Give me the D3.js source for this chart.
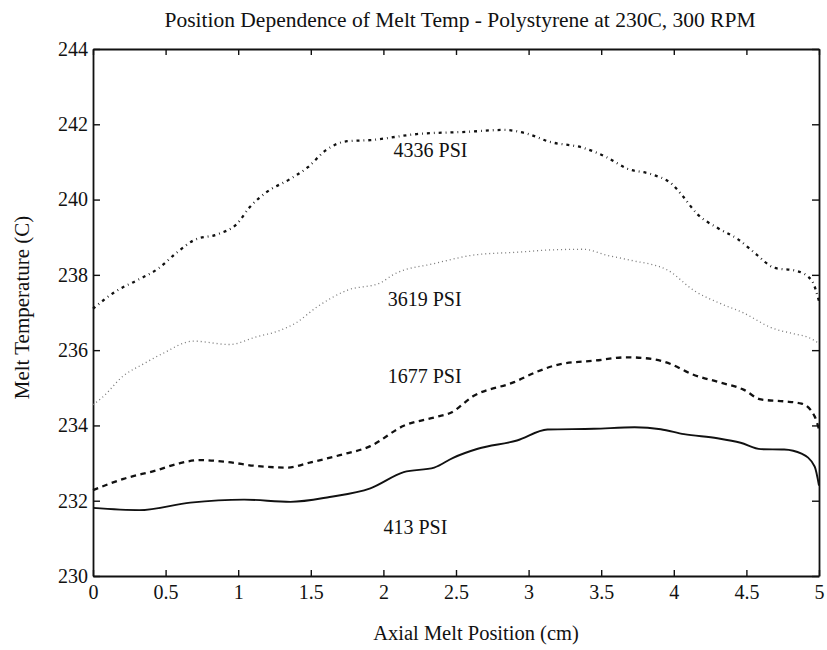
<!DOCTYPE html>
<html>
<head>
<meta charset="utf-8">
<script src="https://cdn.jsdelivr.net/npm/d3@7"></script>
<style>
  body { margin: 0; background: #fff; }
  svg text { font-family: "Liberation Serif", "Times New Roman", serif; fill: #111; }
</style>
</head>
<body>
<svg id="chart" width="827" height="650"></svg>
<script>
// values (axial position in cm, melt temp in C)
var x413 = [0, 0.32, 0.67, 1.04, 1.36, 1.63, 1.91, 2.14, 2.35, 2.48, 2.65, 2.92, 3.13, 3.45, 3.73, 3.91, 4.07, 4.30, 4.46, 4.60, 4.76, 4.88, 4.97, 5.0];
var t413 = [231.81, 231.75, 231.95, 232.03, 231.97, 232.10, 232.33, 232.76, 232.88, 233.14, 233.38, 233.60, 233.89, 233.91, 233.95, 233.90, 233.77, 233.66, 233.54, 233.37, 233.36, 233.25, 232.91, 232.40];

var x1677 = [0, 0.21, 0.44, 0.60, 0.74, 0.92, 1.13, 1.34, 1.50, 1.70, 1.91, 2.14, 2.37, 2.46, 2.62, 2.90, 3.06, 3.22, 3.45, 3.68, 3.86, 3.98, 4.12, 4.30, 4.48, 4.60, 4.76, 4.88, 4.97, 5.0];
var t1677 = [232.28, 232.58, 232.81, 233.00, 233.08, 233.03, 232.92, 232.88, 233.02, 233.21, 233.45, 233.99, 234.23, 234.33, 234.78, 235.15, 235.43, 235.63, 235.72, 235.81, 235.76, 235.63, 235.37, 235.16, 234.95, 234.69, 234.64, 234.58, 234.24, 233.90];

var x3619 = [0, 0.06, 0.21, 0.35, 0.48, 0.69, 0.94, 1.13, 1.27, 1.40, 1.54, 1.75, 1.98, 2.07, 2.35, 2.65, 2.92, 3.14, 3.38, 3.54, 3.70, 3.96, 4.14, 4.32, 4.48, 4.67, 4.83, 4.92, 5.0];
var t3619 = [234.55, 234.73, 235.32, 235.64, 235.91, 236.24, 236.15, 236.36, 236.50, 236.73, 237.14, 237.59, 237.79, 238.01, 238.30, 238.54, 238.60, 238.66, 238.68, 238.52, 238.39, 238.12, 237.58, 237.24, 236.99, 236.60, 236.43, 236.35, 236.18];

var x4336 = [0, 0.16, 0.30, 0.45, 0.57, 0.70, 0.86, 0.99, 1.08, 1.20, 1.35, 1.48, 1.60, 1.75, 1.91, 2.23, 2.58, 2.83, 2.99, 3.14, 3.38, 3.54, 3.68, 3.84, 3.99, 4.06, 4.16, 4.30, 4.44, 4.57, 4.69, 4.85, 4.95, 5.0];
var t4336 = [237.10, 237.57, 237.85, 238.17, 238.57, 238.93, 239.08, 239.35, 239.80, 240.21, 240.53, 240.86, 241.30, 241.55, 241.58, 241.74, 241.80, 241.85, 241.75, 241.54, 241.37, 241.12, 240.82, 240.68, 240.40, 240.10, 239.62, 239.25, 238.95, 238.54, 238.19, 238.10, 237.85, 237.30];

var xTicks = [0, 0.5, 1, 1.5, 2, 2.5, 3, 3.5, 4, 4.5, 5];
var yTicks = [230, 232, 234, 236, 238, 240, 242, 244];

var labelText = ["4336 PSI", "3619 PSI", "1677 PSI", "413 PSI"];
var labelX = [2.07, 2.03, 2.03, 2.0];
var labelY = [241.14, 237.16, 235.12, 231.11];

var svg = d3.select("#chart");
// note: "top" is taken by window.top, so plot edges get their own names
var plotL = 93, plotR = 819, plotT = 49, plotB = 576;

var x = d3.scaleLinear().domain([0, 5]).range([plotL, plotR]);
var y = d3.scaleLinear().domain([230, 244]).range([plotB, plotT]);

function fmtX(d) { return d3.format("")(d); }

// box with inward ticks on all sides (matlab style)
svg.append("g").attr("transform", "translate(0," + plotB + ")")
  .call(d3.axisBottom(x).tickValues(xTicks).tickFormat(fmtX).tickSizeInner(-6).tickSizeOuter(0).tickPadding(9));
svg.append("g").attr("transform", "translate(0," + plotT + ")")
  .call(d3.axisTop(x).tickValues(xTicks).tickFormat("").tickSizeInner(-6).tickSizeOuter(0));
svg.append("g").attr("transform", "translate(" + plotL + ",0)")
  .call(d3.axisLeft(y).tickValues(yTicks).tickSizeInner(-7).tickSizeOuter(0).tickPadding(5));
svg.append("g").attr("transform", "translate(" + plotR + ",0)")
  .call(d3.axisRight(y).tickValues(yTicks).tickFormat("").tickSizeInner(-7).tickSizeOuter(0));

svg.selectAll(".domain").attr("stroke", "#111").attr("stroke-width", 1.8);
svg.selectAll(".tick line").attr("stroke", "#111").attr("stroke-width", 1.4);
svg.selectAll(".tick text").attr("font-size", 20).attr("font-family", "Liberation Serif").attr("fill", "#111");

var line = d3.line().curve(d3.curveMonotoneX)
  .x(function(d) { return x(d[0]); })
  .y(function(d) { return y(d[1]); });

function pairs(xs, ts) {
  return xs.map(function(v, i) { return [v, ts[i]]; });
}

var series = [
  { data: pairs(x413, t413), dash: null, width: 1.9, color: "#111" },
  { data: pairs(x1677, t1677), dash: "5.5,4.5", width: 2.3, color: "#111" },
  { data: pairs(x3619, t3619), dash: "1,3", width: 1.3, color: "#777" },
  { data: pairs(x4336, t4336), dash: "3,4,0.8,4", width: 2.3, color: "#111" }
];

series.forEach(function(s) {
  svg.append("path")
    .attr("d", line(s.data))
    .attr("fill", "none")
    .attr("stroke", s.color)
    .attr("stroke-width", s.width)
    .attr("stroke-dasharray", s.dash);
});

// curve labels
labelText.forEach(function(t, i) {
  svg.append("text")
    .attr("x", x(labelX[i]))
    .attr("y", y(labelY[i]))
    .attr("font-size", 20)
    .text(t);
});

svg.append("text")
  .attr("x", 460).attr("y", 27)
  .attr("text-anchor", "middle")
  .attr("font-size", 21.5)
  .text("Position Dependence of Melt Temp - Polystyrene at 230C, 300 RPM");

svg.append("text")
  .attr("x", (plotL + plotR) / 2 + 20).attr("y", 640)
  .attr("text-anchor", "middle")
  .attr("font-size", 20.5)
  .text("Axial Melt Position (cm)");

svg.append("text")
  .attr("transform", "translate(29," + ((plotT + plotB) / 2 - 5) + ") rotate(-90)")
  .attr("text-anchor", "middle")
  .attr("font-size", 21)
  .text("Melt Temperature (C)");
</script>
</body>
</html>
